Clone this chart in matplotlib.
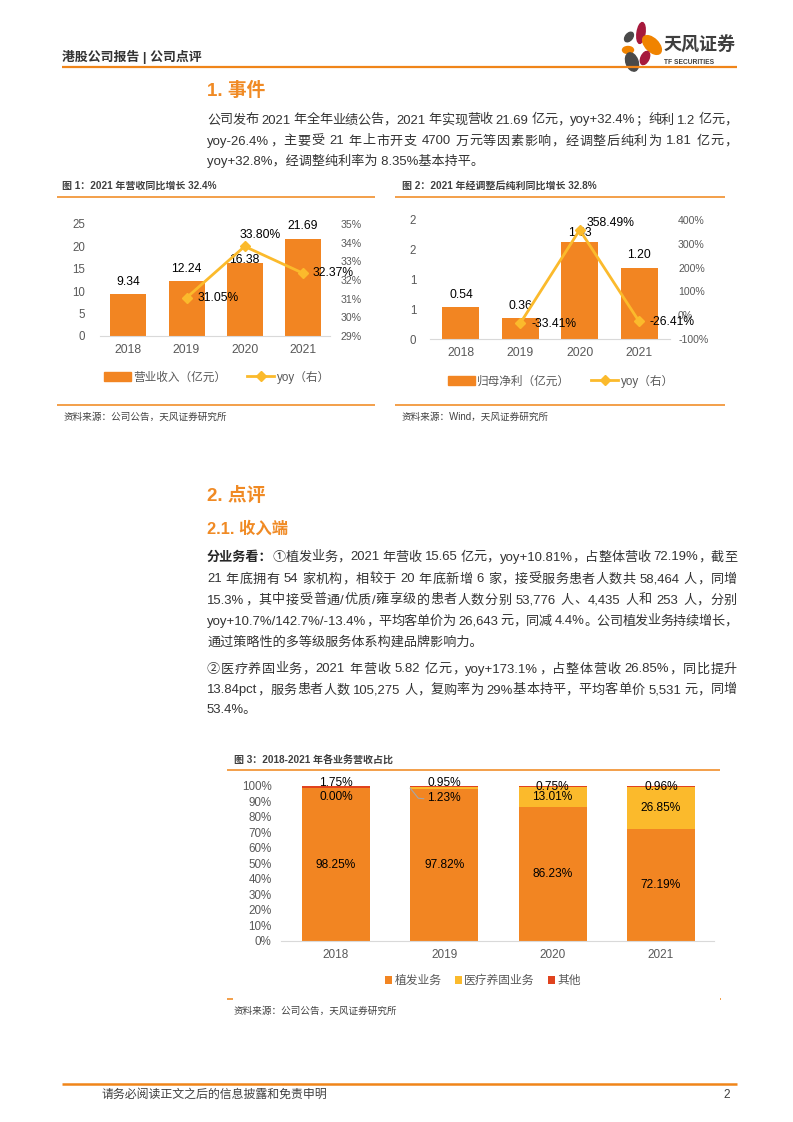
import re
import numpy as np
import matplotlib
matplotlib.use('Agg')
import matplotlib.pyplot as plt
from matplotlib.patches import Ellipse, Patch
from matplotlib.lines import Line2D
from matplotlib.font_manager import FontProperties

# ---- data ----
years = ['2018', '2019', '2020', '2021']
revenue = [9.34, 12.24, 16.38, 21.69]            # 营业收入（亿元）
revenue_yoy = [31.05, 33.80, 32.37]              # 2019-2021, %
profit = [0.54, 0.36, 1.63, 1.20]                # 归母净利（亿元）
profit_yoy = [-33.41, 358.49, -26.41]            # 2019-2021, %
profit_tick_labels = ['0', '1', '1', '2', '2']
hair = [98.25, 97.82, 86.23, 72.19]              # 植发业务
medical = [0.00, 1.23, 13.01, 26.85]             # 医疗养固业务
other = [1.75, 0.95, 0.75, 0.96]                 # 其他

W, H = 793, 1122
FONT = ['Liberation Sans', 'Noto Sans CJK SC', 'DejaVu Sans']
plt.rcParams['font.family'] = FONT

BAR = '#F28522'
GOLD = '#FBBA2C'
RED = '#E0431E'
LINE_OR = '#F08519'
TITLE_OR = '#F08A24'
TEXT = '#333333'
TICK = '#595959'
BODY_FS = 9.45

fig = plt.figure(figsize=(W / 100, H / 100), dpi=100)
renderer = fig.canvas.get_renderer()


def fx(x):
    return x / W


def fy(y):
    return 1 - y / H


def px_axes(x0, y0, x1, y1):
    return fig.add_axes([fx(x0), fy(y1), (x1 - x0) / W, (y1 - y0) / H])


def hline(x0, x1, y, color=LINE_OR, lw=1.1):
    fig.add_artist(Line2D([fx(x0), fx(x1)], [fy(y), fy(y)], color=color, lw=lw,
                          solid_capstyle='butt'))


TOKEN = re.compile(r'[A-Za-z0-9.+\-%/,]+|\s|.')


def text_width(s, size, weight='normal'):
    fp = FontProperties(family=FONT, size=size, weight=weight)
    return renderer.get_text_width_height_descent(s, fp, ismath=False)[0]


def text_line(x, y, s, size=BODY_FS, color=TEXT, weight='normal', right=None):
    # y is the baseline in page pixels; right -> justify to that edge
    if right is None:
        fig.text(fx(x), fy(y), s, size=size, color=color, weight=weight,
                 ha='left', va='baseline')
        return
    toks = TOKEN.findall(s)
    ws = [text_width(t, size, weight) for t in toks]
    gap = (right - x - sum(ws)) / (len(toks) - 1)
    cur = x
    for t, w in zip(toks, ws):
        if not t.isspace():
            fig.text(fx(cur), fy(y), t, size=size, color=color, weight=weight,
                     ha='left', va='baseline')
        cur += w + gap


def style(ax):
    for s in ('top', 'right', 'left'):
        ax.spines[s].set_visible(False)
    ax.spines['bottom'].set_color('#D9D9D9')
    ax.tick_params(axis='both', length=0, colors=TICK)


# ---- page header ----
fig.text(fx(62), fy(61), '港股公司报告 | 公司点评', size=9.3, weight='bold',
         color='#333333', ha='left', va='baseline')
hline(62, 737, 67, lw=1.6)

logo = px_axes(618, 18, 664, 76)
logo.set_xlim(618, 664)
logo.set_ylim(76, 18)
logo.axis('off')
petals = [
    ((641, 33), 8, 21, 8, '#A6193C'),
    ((629, 37), 7, 11, 40, '#4A4A4A'),
    ((652, 45), 13, 23, -45, '#F08300'),
    ((628, 50), 11, 7, 0, '#F08300'),
    ((632, 62), 12, 19, -20, '#4A4A4A'),
    ((645, 58), 8, 14, 25, '#A6193C'),
]
for c, w, h, a, col in petals:
    logo.add_patch(Ellipse(c, w, h, angle=a, color=col))
fig.text(fx(663), fy(46), '天风证券', size=13, weight='bold', color='#3F3F3F',
         ha='left', va='center')
fig.text(fx(664), fy(63), 'TF SECURITIES', size=4.8, weight='bold', color='#3F3F3F',
         ha='left', va='center')

# ---- section 1 ----
fig.text(fx(207), fy(91), '1. 事件', size=13.5, weight='bold', color=TITLE_OR,
         ha='left', va='center')
p1 = ['公司发布 2021 年全年业绩公告，2021 年实现营收 21.69 亿元，yoy+32.4%；纯利 1.2 亿元，',
      'yoy-26.4%，主要受 21 年上市开支 4700 万元等因素影响，经调整后纯利为 1.81 亿元，',
      'yoy+32.8%，经调整纯利率为 8.35%基本持平。']
for i, (y, s) in enumerate(zip([123.5, 144.5, 165.5], p1)):
    text_line(207, y, s, right=737 if i < len(p1) - 1 else None)

# ---- figure 1 ----
xs = np.arange(len(years))
fig.text(fx(62), fy(186), '图 1：2021 年营收同比增长 32.4%', size=7.2, weight='bold',
         color='#404040', ha='left', va='center')
hline(57, 375, 196.5)
ax1 = px_axes(100, 224, 330, 336)
ax1.bar(xs, revenue, width=0.62, color=BAR)
ax1.set_xlim(-0.49, 3.47)
ax1.set_ylim(0, 25)
ax1.set_yticks(np.arange(0, 26, 5))
ax1.set_xticks(xs, years)
style(ax1)
ax1.tick_params(axis='y', pad=10.5, labelsize=8.3)
ax1.tick_params(axis='x', pad=6, labelsize=8.7)
for xi, v, dy in zip(xs, revenue, [9, 9, 2, 9.3]):
    ax1.annotate(f'{v:.2f}', (xi, v), xytext=(0, dy), textcoords='offset points',
                 ha='center', va='center', fontsize=8.7, color='black')
ax1b = ax1.twinx()
ax1b.set_ylim(29, 35)
ax1b.set_yticks(range(29, 36))
ax1b.set_yticklabels([f'{t}%' for t in range(29, 36)])
for s in ax1b.spines.values():
    s.set_visible(False)
ax1b.tick_params(axis='y', length=0, colors=TICK, pad=7.5, labelsize=7.6)
ax1b.plot(xs[1:], revenue_yoy, color=GOLD, lw=2, marker='D', ms=5.5)
for xi, v, off, ha in zip(xs[1:], revenue_yoy, [(8, 0), (11, 8), (7, 0)],
                          ['left', 'center', 'left']):
    ax1b.annotate(f'{v:.2f}%', (xi, v), xytext=off, textcoords='offset points',
                  ha=ha, va='center', fontsize=8.7, color='black')
leg_fs = 8.4
ax1.legend([Patch(color=BAR), Line2D([], [], color=GOLD, lw=2, marker='D', ms=5)],
           ['营业收入（亿元）', 'yoy（右）'], loc='center',
           bbox_to_anchor=(fx(217), fy(377)), bbox_transform=fig.transFigure,
           ncol=2, frameon=False, fontsize=leg_fs, handlelength=2.3,
           handletextpad=0.25, columnspacing=1.8, labelcolor=TICK)
hline(57, 375, 405.5)
fig.text(fx(64), fy(417), '资料来源：公司公告，天风证券研究所', size=6.9,
         color='#404040', ha='left', va='center')

# ---- figure 2 ----
fig.text(fx(402), fy(186), '图 2：2021 年经调整后纯利同比增长 32.8%', size=7.2,
         weight='bold', color='#404040', ha='left', va='center')
hline(395, 725, 196.5)
ax2 = px_axes(430, 220, 670, 339)
ax2.bar(xs, profit, width=0.62, color=BAR)
ax2.set_xlim(-0.52, 3.52)
ax2.set_ylim(0, 2)
ax2.set_yticks([0, 0.5, 1, 1.5, 2])
ax2.set_yticklabels(profit_tick_labels)
ax2.set_xticks(xs, years)
style(ax2)
ax2.tick_params(axis='y', pad=10, labelsize=8.3)
ax2.tick_params(axis='x', pad=6, labelsize=8.7)
for xi, v, dy in zip(xs, profit, [8.9, 8.4, 6.3, 9]):
    ax2.annotate(f'{v:.2f}', (xi, v), xytext=(0, dy), textcoords='offset points',
                 ha='center', va='center', fontsize=8.7, color='black')
ax2b = ax2.twinx()
ax2b.set_ylim(-100, 400)
ax2b.set_yticks(range(-100, 401, 100))
ax2b.set_yticklabels([f'{t}%' for t in range(-100, 401, 100)])
for s in ax2b.spines.values():
    s.set_visible(False)
ax2b.tick_params(axis='y', length=0, colors=TICK, pad=5.8, labelsize=7.6)
ax2b.plot(xs[1:], profit_yoy, color=GOLD, lw=2, marker='D', ms=5.5)
for xi, v, off in zip(xs[1:], profit_yoy, [(8, -0.7), (5, 4.6), (7.7, -0.5)]):
    ax2b.annotate(f'{v:.2f}%', (xi, v), xytext=off, textcoords='offset points',
                  ha='left', va='center', fontsize=8.7, color='black')
ax2.legend([Patch(color=BAR), Line2D([], [], color=GOLD, lw=2, marker='D', ms=5)],
           ['归母净利（亿元）', 'yoy（右）'], loc='center',
           bbox_to_anchor=(fx(561), fy(381)), bbox_transform=fig.transFigure,
           ncol=2, frameon=False, fontsize=leg_fs, handlelength=2.3,
           handletextpad=0.25, columnspacing=1.8, labelcolor=TICK)
hline(395, 725, 405.5)
fig.text(fx(402), fy(417), '资料来源：Wind，天风证券研究所', size=6.9,
         color='#404040', ha='left', va='center')

# ---- section 2 ----
fig.text(fx(207), fy(496), '2. 点评', size=13.5, weight='bold', color=TITLE_OR,
         ha='left', va='center')
fig.text(fx(207), fy(529), '2.1. 收入端', size=11.8, weight='bold', color=TITLE_OR,
         ha='left', va='center')
prefix = '分业务看：'
fig.text(fx(207), fy(560.5), prefix, size=BODY_FS, weight='bold', color='#262626',
         ha='left', va='baseline')
pw = text_width(prefix, BODY_FS, 'bold')
text_line(207 + pw, 560.5,
          '①植发业务，2021 年营收 15.65 亿元，yoy+10.81%，占整体营收 72.19%，截至', right=737)
p2 = ['21 年底拥有 54 家机构，相较于 20 年底新增 6 家，接受服务患者人数共 58,464 人，同增',
      '15.3%，其中接受普通/优质/雍享级的患者人数分别 53,776 人、4,435 人和 253 人，分别',
      'yoy+10.7%/142.7%/-13.4%，平均客单价为 26,643 元，同减 4.4%。公司植发业务持续增长，',
      '通过策略性的多等级服务体系构建品牌影响力。']
for i, (y, s) in enumerate(zip([582.5, 603.5, 624.5, 645.5], p2)):
    text_line(207, y, s, right=737 if i < len(p2) - 1 else None)
p3 = ['②医疗养固业务，2021 年营收 5.82 亿元，yoy+173.1%，占整体营收 26.85%，同比提升',
      '13.84pct，服务患者人数 105,275 人，复购率为 29%基本持平，平均客单价 5,531 元，同增',
      '53.4%。']
for i, (y, s) in enumerate(zip([672.5, 693.5, 713.5], p3)):
    text_line(207, y, s, right=737 if i < len(p3) - 1 else None)

# ---- figure 3 ----
fig.text(fx(234), fy(760), '图 3：2018-2021 年各业务营收占比', size=7.2, weight='bold',
         color='#404040', ha='left', va='center')
hline(227, 720, 770)
ax3 = px_axes(281, 785.7, 714, 940.7)
bw = 0.63
base2 = np.add(hair, medical)
ax3.bar(xs, hair, bw, color=BAR, label='植发业务')
ax3.bar(xs, medical, bw, bottom=hair, color=GOLD, label='医疗养固业务')
ax3.bar(xs, other, bw, bottom=base2, color=RED, label='其他')
ax3.set_xlim(-0.508, 3.49)
ax3.set_ylim(0, 100)
ax3.set_yticks(range(0, 101, 10))
ax3.set_yticklabels([f'{t}%' for t in range(0, 101, 10)])
ax3.set_xticks(xs, years)
style(ax3)
ax3.tick_params(axis='y', pad=6.7, labelsize=8.4)
ax3.tick_params(axis='x', pad=6, labelsize=8.5)
for xi, h, m, o, ody in zip(xs, hair, medical, other, [1.5, 1.9, -0.6, -0.6]):
    ax3.text(xi, h / 2, f'{h:.2f}%', ha='center', va='center', fontsize=8.6, color='black')
    my = h + m / 2 if m > 5 else h - 5.5
    ax3.text(xi, my, f'{m:.2f}%', ha='center', va='center', fontsize=8.6, color='black')
    ax3.text(xi, 100 + ody, f'{o:.2f}%', ha='center', va='center', fontsize=8.6, color='black')
# leader line for the small 2019 slice
ax3.plot([1 - bw / 2, 1 - 0.24, 1 - 0.19], [hair[1] + medical[1] / 2, 91.9, 91.6],
         color='#A6A6A6', lw=0.8)
fig.legend(*ax3.get_legend_handles_labels(), loc='center',
           bbox_to_anchor=(fx(483), fy(981)), ncol=3, frameon=False, fontsize=8.5,
           handlelength=0.6, handleheight=0.6, handletextpad=0.2, columnspacing=1.1,
           labelcolor=TICK)
hline(227, 233, 999)
hline(719.5, 720.5, 999)
fig.text(fx(234), fy(1011), '资料来源：公司公告，天风证券研究所', size=6.9,
         color='#404040', ha='left', va='center')

# ---- footer ----
hline(62, 737, 1083.5, lw=1.8)
fig.text(fx(102), fy(1095), '请务必阅读正文之后的信息披露和免责申明', size=8.6,
         color='#404040', ha='left', va='center')
fig.text(fx(723), fy(1095), '2', size=8.6, color='#404040', ha='left', va='center')

fig.savefig('out.png', dpi=100)
